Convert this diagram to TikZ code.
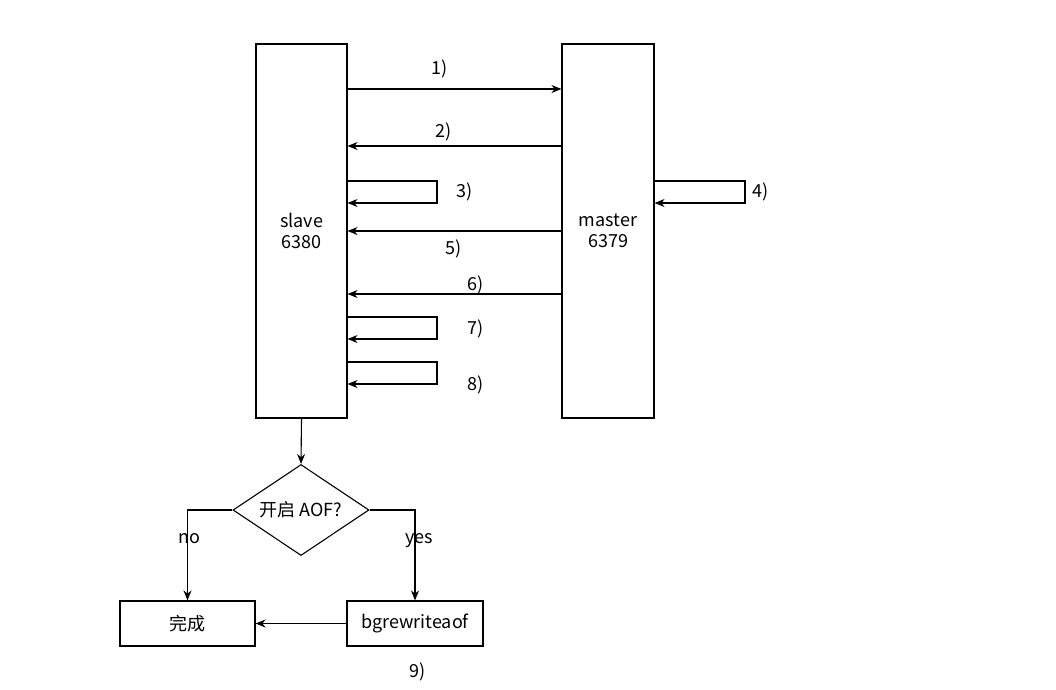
\documentclass[tikz,border=0pt]{standalone}
\usepackage{fontspec}
\setmainfont{Noto Sans CJK SC}
\usetikzlibrary{arrows.meta,shapes.geometric}

\tikzset{
	box/.style={draw, line width=1.1pt, align=center, inner sep=0pt},
	arr/.style={-{Stealth[length=10pt,width=8pt]}, line width=1.1pt},
	lbl/.style={inner sep=0pt},
}

\begin{document}
\begin{tikzpicture}[x=1pt,y=-1pt,font=\fontsize{18}{21}\selectfont]
	\useasboundingbox (0,0) rectangle (1056,689);
	\node[box, minimum width=91pt, minimum height=374pt] (slave) at (301.5,231) {slave\\6380};
	\node[box, minimum width=92pt, minimum height=374pt] (master) at (608,231) {master\\6379};
	\node[box, diamond, aspect=1.5, minimum width=136pt, minimum height=91pt] (aof) at (301,510) {开启 AOF?};
	\node[box, minimum width=135pt, minimum height=45pt] (done) at (187.5,623.5) {完成};
	\node[box, minimum width=136pt, minimum height=45pt] (bgrw) at (415,623.5) {bgrewriteaof};

	\draw[arr] (slave.east |- 0,89) -- (master.west |- 0,89);
	\draw[arr] (master.west |- 0,146) -- (slave.east |- 0,146);
	\draw[arr] (slave.east |- 0,181) -- (437,181) -- (437,203) -- (slave.east |- 0,203);
	\draw[arr] (master.east |- 0,181) -- (745,181) -- (745,203) -- (master.east |- 0,203);
	\draw[arr] (master.west |- 0,231) -- (slave.east |- 0,231);
	\draw[arr] (master.west |- 0,294) -- (slave.east |- 0,294);
	\draw[arr] (slave.east |- 0,317) -- (437,317) -- (437,339) -- (slave.east |- 0,339);
	\draw[arr] (slave.east |- 0,362) -- (437,362) -- (437,384) -- (slave.east |- 0,384);

	\node[lbl] (l1) at (440,69) {1)};
	\node[lbl] (l2) at (444,132) {2)};
	\node[lbl] (l3) at (465,192) {3)};
	\node[lbl] (l4) at (761,192) {4)};
	\node[lbl] (l5) at (454,249) {5)};
	\node[lbl] (l6) at (476,285) {6)};
	\node[lbl] (l7) at (476,329) {7)};
	\node[lbl] (l8) at (476,385) {8)};

	\draw[arr] (slave.south) -- (aof.north);
	\draw[arr] (aof.west) -| (done.north);
	\draw[arr] (aof.east) -| (bgrw.north);
	\draw[arr] (bgrw.west) -- (done.east);
	\node[lbl] (no) at (189,539) {no};
	\node[lbl] (yes) at (419,541) {yes};
	\node[lbl] (l9) at (418,672) {9)};
\end{tikzpicture}
\end{document}
